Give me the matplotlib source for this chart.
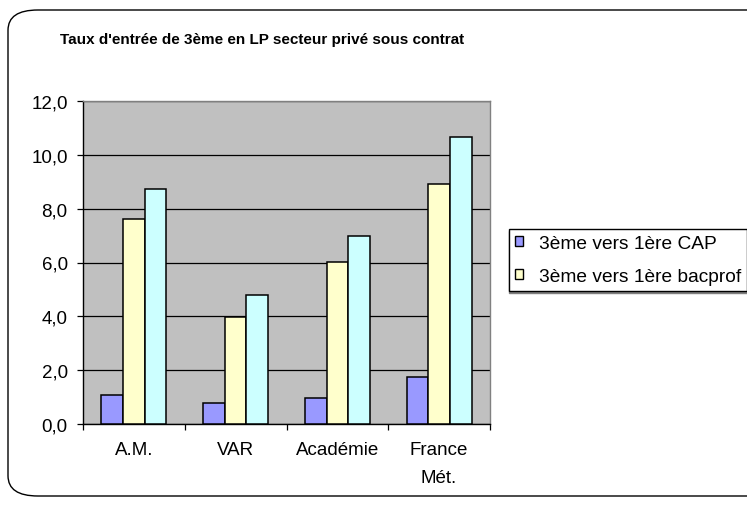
import matplotlib as mpl
import matplotlib.pyplot as plt
from matplotlib.patches import FancyBboxPatch, Patch
import numpy as np

categories = ["A.M.", "VAR", "Académie", "France\nMét."]
series_names = ["3ème vers 1ère CAP", "3ème vers 1ère bacprof", "3ème vers 2nde pro"]
cap = [1.08, 0.77, 0.95, 1.73]
bacpro = [7.62, 3.99, 6.03, 8.92]
total = [8.72, 4.80, 6.98, 10.65]
colors = ["#9999FF", "#FFFFCC", "#CCFFFF"]
y_ticks = [0, 2, 4, 6, 8, 10, 12]

mpl.rcParams.update({
    "font.family": ["Liberation Sans", "DejaVu Sans"],
    "font.size": 13.5,
})

fig = plt.figure(figsize=(7.47, 5.06), dpi=100)

# rounded outer chart frame (runs off the right edge like the original)
fig.patches.append(FancyBboxPatch(
    (8 / 747, 1 - 497 / 506), 1.2, (497 - 11) / 506,
    boxstyle="round,pad=0,rounding_size=0.04", transform=fig.transFigure,
    facecolor="white", edgecolor="black", linewidth=1.0, zorder=-1))

ax = fig.add_axes([83 / 747, 1 - 425 / 506, (490 - 83) / 747, (425 - 102) / 506])
ax.set_facecolor("#C0C0C0")

x = np.arange(len(categories))
w = 0.213
for i, vals in enumerate([cap, bacpro, total]):
    ax.bar(x + (i - 1) * w, vals, w, color=colors[i], edgecolor="black",
           linewidth=1.1, zorder=3)

ax.set_xlim(-0.5, len(categories) - 0.5)
ax.set_ylim(0, 12)
ax.set_yticks(y_ticks)
ax.set_yticklabels([f"{v:.1f}".replace(".", ",") for v in y_ticks])
ax.yaxis.grid(True, color="black", linewidth=0.9, zorder=1)
ax.set_axisbelow(True)

ax.set_xticks(x)
ax.set_xticklabels(categories, linespacing=1.9)
ax.set_xticks(np.arange(len(categories) + 1) - 0.5, minor=True)
ax.tick_params(axis="x", which="major", length=0, pad=12)
ax.tick_params(axis="x", which="minor", length=4, direction="out", width=0.9)
ax.tick_params(axis="y", length=4, direction="out", width=0.9, pad=7)

for side in ["top", "right"]:
    ax.spines[side].set_color("#808080")
    ax.spines[side].set_linewidth(1.0)
for side in ["left", "bottom"]:
    ax.spines[side].set_color("black")
    ax.spines[side].set_linewidth(1.0)

fig.text(262 / 747, 1 - 40 / 506, "Taux d'entrée de 3ème en LP secteur privé sous contrat",
         ha="center", va="center", fontsize=11, fontweight="bold")

handles = [Patch(facecolor=colors[i], edgecolor="black", linewidth=1.0,
                 label=series_names[i]) for i in range(2)]
leg = fig.legend(handles=handles, loc="upper left",
                 bbox_to_anchor=(509 / 747, 1 - 230 / 506), fontsize=13.8,
                 frameon=True, fancybox=False, edgecolor="black",
                 shadow={"color": "#808080", "alpha": 1.0, "ox": 0, "oy": -1.5},
                 handlelength=0.45, handleheight=0.45, handletextpad=0.8,
                 borderpad=0.3, labelspacing=0.85, borderaxespad=0)
leg.get_frame().set_linewidth(1.0)

fig.savefig("out.png", dpi=100)
